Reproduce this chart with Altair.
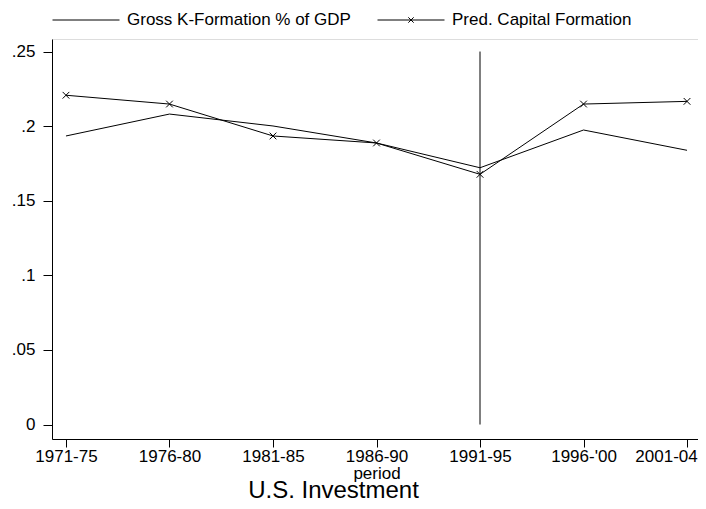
import altair as alt
import pandas as pd

periods = ["1971-75", "1976-80", "1981-85", "1986-90", "1991-95", "1996-'00", "2001-04"]
gross = [0.1934, 0.2081, 0.2001, 0.1887, 0.1721, 0.1974, 0.1838]
pred = [0.2207, 0.2148, 0.1934, 0.1887, 0.1677, 0.2148, 0.2166]
series_names = ["Gross K-Formation % of GDP", "Pred. Capital Formation"]
y_ticks = [0, 0.05, 0.1, 0.15, 0.2, 0.25]
rule_period = ["1991-95"]
rule_low = [0.0]
rule_high = [0.25]

FONT = "Liberation Sans"
FS = 17

rows = []
for name, vals in zip(series_names, [gross, pred]):
    for p, v in zip(periods, vals):
        rows.append({"period": p, "value": v, "series": name})
df = pd.DataFrame(rows)
rule_df = pd.DataFrame({"period": rule_period, "lo": rule_low, "hi": rule_high})

xscale = alt.Scale(type="point", domain=periods, padding=0.135)
yscale = alt.Scale(domain=[-0.0097, 0.2584], nice=False, zero=False)

x_axis = alt.Axis(
    title="period", labelFont=FONT, labelFontSize=FS, titleFont=FONT, titleFontSize=FS,
    titleFontWeight="normal", titlePadding=1, labelPadding=1, tickSize=8,
    domainColor="black", tickColor="black", labelColor="black", titleColor="black",
    grid=False, labelAngle=0, labelAlign="center", labelBaseline="top",
    labelOffset={"condition": {"test": "datum.value == '2001-04'", "value": -21}, "value": 0},
)
y_axis = alt.Axis(
    title=None, values=y_ticks, labelFont=FONT, labelFontSize=FS, labelPadding=8, tickSize=9,
    labelExpr="datum.value == 0 ? '0' : substring(format(datum.value, '.2~f'), 1)",
    domainColor="black", tickColor="black", labelColor="black", grid=False,
)

base = alt.Chart(df)

lines = base.mark_line(color="black", strokeWidth=1).encode(
    x=alt.X("period:N", scale=xscale, axis=x_axis, sort=periods),
    y=alt.Y("value:Q", scale=yscale, axis=y_axis),
    detail="series:N",
)

markers = base.transform_filter(
    alt.datum.series == series_names[1]
).mark_point(
    shape="M-1,-1L1,1M-1,1L1,-1", size=45, filled=False, color="black", strokeWidth=1, opacity=1
).encode(
    x=alt.X("period:N", scale=xscale, sort=periods),
    y=alt.Y("value:Q", scale=yscale),
)

legend_layer = base.mark_point(size=0, filled=False, color="black", strokeWidth=1, opacity=1).encode(
    x=alt.X("period:N", scale=xscale, sort=periods),
    y=alt.Y("value:Q", scale=yscale),
    shape=alt.Shape(
        "series:N",
        scale=alt.Scale(
            domain=series_names,
            range=["M-1,0L1,0", "M-1,0L1,0M-0.08,-0.08L0.08,0.08M-0.08,0.08L0.08,-0.08"],
        ),
        legend=alt.Legend(
            title=None, orient="none", legendX=0, legendY=-53, direction="horizontal",
            symbolSize=4489, symbolStrokeColor="black", symbolFillColor="transparent",
            symbolStrokeWidth=1, labelFont=FONT, labelFontSize=FS, labelColor="black",
            labelOffset=7, columnPadding=24, labelLimit=400,
        ),
    ),
)

rule = alt.Chart(rule_df).mark_rule(color="black", strokeWidth=1).encode(
    x=alt.X("period:N", scale=xscale, sort=periods),
    y=alt.Y("lo:Q", scale=yscale),
    y2="hi:Q",
)

chart = alt.layer(rule, lines, markers, legend_layer).properties(
    width=649,
    height=400,
    autosize=alt.AutoSizeParams(type="none"),
    padding={"left": 44, "top": 31, "right": -3, "bottom": 61},
    title=alt.TitleParams(
        "U.S. Investment", orient="bottom", font=FONT, fontSize=24, fontWeight="normal",
        color="black", anchor="middle", dx=-43, offset=-2,
    ),
).configure_view(stroke=None).configure(background="white")

chart.save("out.html", embed_options={"renderer": "svg", "actions": False})
